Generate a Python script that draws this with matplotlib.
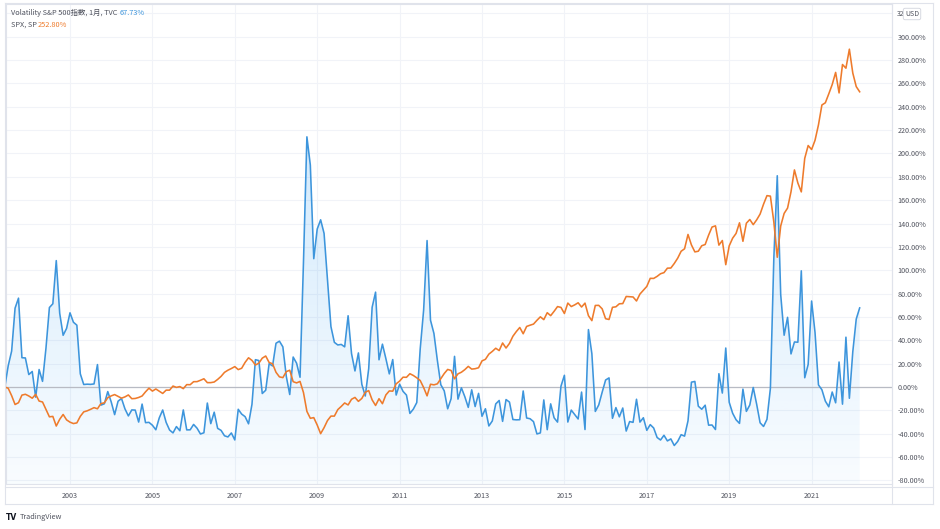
import numpy as np
import matplotlib
matplotlib.use("Agg")
import matplotlib.pyplot as plt
from matplotlib.patches import Polygon, Rectangle, FancyBboxPatch
from matplotlib.lines import Line2D

plt.rcParams['font.family'] = ['Noto Sans CJK JP', 'DejaVu Sans']

# ---------------- data (monthly closes, Jun 2001 .. Mar 2022) ----------------
start_year, start_month = 2001, 6

vix_close = [
    19.06, 22.52, 24.92, 31.93, 33.56, 23.84, 23.80,
    21.09, 21.59, 17.40, 21.91, 19.98, 25.40, 32.03, 32.64, 39.69, 31.10, 27.50, 28.62,
    31.17, 29.63, 29.15, 21.21, 19.47, 19.52, 19.49, 19.56, 22.72, 16.10, 16.32, 18.31,
    16.63, 14.55, 16.74, 17.19, 15.50, 14.34, 15.32, 15.29, 13.34, 16.27, 13.24, 13.29,
    12.82, 12.08, 14.02, 15.31, 13.29, 12.04, 11.57, 12.60, 11.92, 15.32, 12.06, 12.07,
    12.95, 12.34, 11.39, 11.59, 16.44, 13.08, 14.95, 12.31, 11.98, 11.10, 10.91, 11.56,
    10.42, 15.42, 14.64, 14.22, 13.05, 16.23, 23.52, 23.38, 18.00, 18.53, 22.87, 22.50,
    26.20, 26.54, 25.61, 20.79, 17.83, 23.95, 22.94, 20.65, 39.39, 59.89, 55.28, 40.00,
    44.84, 46.35, 44.14, 36.50, 28.92, 26.35, 25.92, 26.01, 25.61, 30.69, 24.51, 21.68,
    24.62, 19.50, 17.59, 22.05, 32.07, 34.54, 23.50, 26.05, 23.70, 21.20, 23.54, 17.75,
    19.53, 18.35, 17.74, 14.75, 15.45, 16.52, 25.25, 31.62, 42.96, 29.96, 27.80, 23.40,
    19.44, 18.43, 15.50, 17.15, 24.06, 17.08, 18.93, 17.47, 15.73, 18.60, 15.87, 18.02,
    14.28, 15.51, 12.70, 13.52, 16.30, 16.86, 13.45, 17.01, 16.60, 13.75, 13.70, 13.72,
    18.41, 14.00, 13.88, 13.41, 11.40, 11.57, 16.95, 12.09, 16.31, 14.03, 13.33, 19.20,
    20.97, 13.34, 15.29, 14.55, 13.84, 18.23, 12.12, 28.43, 24.50, 15.07, 16.13, 18.21,
    20.20, 20.55, 13.95, 15.70, 14.19, 15.63, 11.87, 13.42, 13.29, 17.06, 13.33, 14.04,
    11.99, 12.92, 12.37, 10.82, 10.41, 11.18, 10.26, 10.59, 9.51, 10.18, 11.28, 11.04,
    13.54, 19.85, 19.97, 15.93, 15.43, 16.09, 12.83, 12.86, 12.12, 21.23, 18.07, 25.42,
    16.57, 14.78, 13.71, 13.12, 18.71, 15.08, 16.12, 18.98, 16.24, 13.22, 12.62, 13.78,
    18.84, 40.11, 53.54, 34.15, 27.51, 30.43, 24.46, 26.41, 26.37, 38.02, 20.57, 22.75,
    33.09, 27.95, 19.40, 18.61, 16.76, 15.83, 18.24, 16.48, 23.14, 16.26, 27.19, 17.22,
    24.83, 30.15, 31.97,
]

spx_close = [
    1224.38, 1211.23, 1133.58, 1040.94, 1059.78, 1139.45, 1148.08,
    1130.20, 1106.73, 1147.39, 1076.92, 1067.14, 989.82, 911.62, 916.07, 815.28, 885.76, 936.31, 879.82,
    855.70, 841.15, 848.18, 916.92, 963.59, 974.50, 990.31, 1008.01, 995.97, 1050.71, 1058.20, 1111.92,
    1131.13, 1144.94, 1126.21, 1107.30, 1120.68, 1140.84, 1101.72, 1104.24, 1114.58, 1130.20, 1173.82, 1211.92,
    1181.27, 1203.60, 1180.59, 1156.85, 1191.50, 1191.33, 1234.18, 1220.33, 1228.81, 1207.01, 1249.48, 1248.29,
    1280.08, 1280.66, 1294.83, 1310.61, 1270.09, 1270.20, 1276.66, 1303.82, 1335.85, 1377.94, 1400.63, 1418.30,
    1438.24, 1406.82, 1420.86, 1482.37, 1530.62, 1503.35, 1455.27, 1473.99, 1526.75, 1549.38, 1481.14, 1468.36,
    1378.55, 1330.63, 1322.70, 1385.59, 1400.38, 1280.00, 1267.38, 1282.83, 1166.36, 968.75, 896.24, 903.25,
    825.88, 735.09, 797.87, 872.81, 919.14, 919.32, 987.48, 1020.62, 1057.08, 1036.19, 1095.63, 1115.10,
    1073.87, 1104.49, 1169.43, 1186.69, 1089.41, 1030.71, 1101.60, 1049.33, 1141.20, 1183.26, 1180.55, 1257.64,
    1286.12, 1327.22, 1325.83, 1363.61, 1345.20, 1320.64, 1292.28, 1218.89, 1131.42, 1253.30, 1246.96, 1257.60,
    1312.41, 1365.68, 1408.47, 1397.91, 1310.33, 1362.16, 1379.32, 1406.58, 1440.67, 1412.16, 1416.18, 1426.19,
    1498.11, 1514.68, 1569.19, 1597.57, 1630.74, 1606.28, 1685.73, 1632.97, 1681.55, 1756.54, 1805.81, 1848.36,
    1782.59, 1859.45, 1872.34, 1883.95, 1923.57, 1960.23, 1930.67, 2003.37, 1972.29, 2018.05, 2067.56, 2058.90,
    1994.99, 2104.50, 2067.89, 2085.51, 2107.39, 2063.11, 2103.84, 1972.18, 1920.03, 2079.36, 2080.41, 2043.94,
    1940.24, 1932.23, 2059.74, 2065.30, 2096.95, 2098.86, 2173.60, 2170.95, 2168.27, 2126.15, 2198.81, 2238.83,
    2278.87, 2363.64, 2362.72, 2384.20, 2411.80, 2423.41, 2470.30, 2471.65, 2519.36, 2575.26, 2647.58, 2673.61,
    2823.81, 2713.83, 2640.87, 2648.05, 2705.27, 2718.37, 2816.29, 2901.52, 2913.98, 2711.74, 2760.17, 2506.85,
    2704.10, 2784.49, 2834.40, 2945.83, 2752.06, 2941.76, 2980.38, 2926.46, 2976.74, 3037.56, 3140.98, 3230.78,
    3225.52, 2954.22, 2584.59, 2912.43, 3044.31, 3100.29, 3271.12, 3500.31, 3363.00, 3269.96, 3621.63, 3756.07,
    3714.24, 3811.15, 3972.89, 4181.17, 4204.11, 4297.50, 4395.26, 4522.68, 4307.54, 4605.38, 4567.00, 4766.18,
    4515.55, 4373.94, 4319.60,
]

year_ticks = [2003, 2005, 2007, 2009, 2011, 2013, 2015, 2017, 2019, 2021]
pct_ticks = list(range(-80, 321, 20))
vix_label = "Volatility S&P 500指数, 1月, TVC"
vix_last = "67.73%"
spx_label = "SPX, SP"
spx_last = "252.80%"

# ---------------- derived ----------------
vix = np.array(vix_close)
spx = np.array(spx_close)
vix_pct = (vix / vix[0] - 1) * 100
spx_pct = (spx / spx[0] - 1) * 100
x = start_year + (start_month - 1) / 12 + np.arange(len(vix)) / 12.0

BLUE = '#3d95dc'
ORANGE = '#ee7b2c'
TXT = '#50535e'
GRID = '#f1f3f8'
BORDER = '#e0e3eb'

W, H = 940, 529
fig = plt.figure(figsize=(W / 100, H / 100), dpi=100)
fig.patch.set_facecolor('white')

def fx(px):
    return px / W

def fy(py):
    return 1 - py / H

ax_l, ax_r, ax_t, ax_b = 6, 892, 4, 484
ax = fig.add_axes([fx(ax_l), fy(ax_b), fx(ax_r) - fx(ax_l), fy(ax_t) - fy(ax_b)])
ax.set_facecolor('white')

# x scale: 41.2 px / year, 2003 at px 70
px_per_year = 41.2
xmin = 2003 + (ax_l - 70) / px_per_year
xmax = 2003 + (ax_r - 70) / px_per_year
# y scale: 0% at px 387, 1.1678 px per %
px_per_pct = 1.1678
ymax = (387 - ax_t) / px_per_pct
ymin = (387 - ax_b) / px_per_pct
ax.set_xlim(xmin, xmax)
ax.set_ylim(ymin, ymax)

# grid
for yv in pct_ticks:
    ax.axhline(yv, color=GRID, lw=0.8, zorder=0)
for xv in year_ticks:
    ax.axvline(xv, color=GRID, lw=0.8, zorder=0)

# gradient fill under VIX line
poly_verts = np.vstack([[x[0], ymin], np.column_stack([x, vix_pct]), [x[-1], ymin]])
poly = Polygon(poly_verts, closed=True, facecolor='none', edgecolor='none')
ax.add_patch(poly)
n = 256
grad = np.zeros((n, 1, 4))
grad[:, 0, 0] = 33 / 255
grad[:, 0, 1] = 150 / 255
grad[:, 0, 2] = 243 / 255
grad[:, 0, 3] = np.linspace(0.03, 0.20, n)
im = ax.imshow(grad, extent=[xmin, xmax, ymin, vix_pct.max()], origin='lower',
               aspect='auto', zorder=1, interpolation='bilinear')
im.set_clip_path(poly)

ax.axhline(0, color='#b8bbc4', lw=0.9, zorder=2)
ax.plot(x, vix_pct, color=BLUE, lw=1.15, zorder=3, solid_joinstyle='round')
ax.plot(x, spx_pct, color=ORANGE, lw=1.15, zorder=4, solid_joinstyle='round')

# axes styling
for s in ax.spines.values():
    s.set_color(BORDER)
    s.set_linewidth(0.8)
ax.yaxis.tick_right()
ax.set_yticks(pct_ticks)
ax.set_yticklabels(['' if v == 320 else f'{v:.2f}%' for v in pct_ticks])
ax.tick_params(axis='y', length=0, pad=4, labelsize=5.2, labelcolor=TXT)
ax.set_xticks(year_ticks)
ax.set_xticklabels([str(y) for y in year_ticks])
ax.tick_params(axis='x', length=0, pad=5.5, labelsize=5.2, labelcolor=TXT)
for lab in ax.get_yticklabels():
    lab.set_horizontalalignment('left')

# frame lines (price-axis panel and time-axis panel)
def hline(py, x0, x1):
    fig.add_artist(Line2D([fx(x0), fx(x1)], [fy(py), fy(py)], color=BORDER, lw=0.8))

def vline(px, y0, y1):
    fig.add_artist(Line2D([fx(px), fx(px)], [fy(y0), fy(y1)], color=BORDER, lw=0.8))

hline(3, 5, 933)
hline(504, 5, 933)
hline(487, 5, 933)
vline(5, 3, 504)
vline(933, 3, 504)
vline(892, 3, 504)

# legend texts
fig.text(fx(11), fy(13), vix_label, fontsize=5.3, color=TXT, va='center', ha='left')
fig.text(fx(120), fy(13), vix_last, fontsize=5.3, color=BLUE, va='center', ha='left')
fig.text(fx(11), fy(25), spx_label, fontsize=5.3, color=TXT, va='center', ha='left')
fig.text(fx(38), fy(25), spx_last, fontsize=5.3, color=ORANGE, va='center', ha='left')

# price-axis currency label
fig.text(fx(897), fy(14), "32", fontsize=5.0, color=TXT, va='center', ha='left')
fig.text(fx(905), fy(14), "USD", fontsize=5.0, color=TXT, va='center', ha='left',
         bbox=dict(boxstyle='round,pad=0.25', fc='white', ec='#d1d4dc', lw=0.6))

# TradingView watermark
fig.text(fx(6), fy(517), "TV", fontsize=5.5, color='#131722', va='center', ha='left',
         fontweight='bold', family=['DejaVu Sans'])
fig.text(fx(20), fy(517), "TradingView", fontsize=5.3, color=TXT, va='center', ha='left')

fig.savefig('out.png', dpi=100, facecolor='white')
